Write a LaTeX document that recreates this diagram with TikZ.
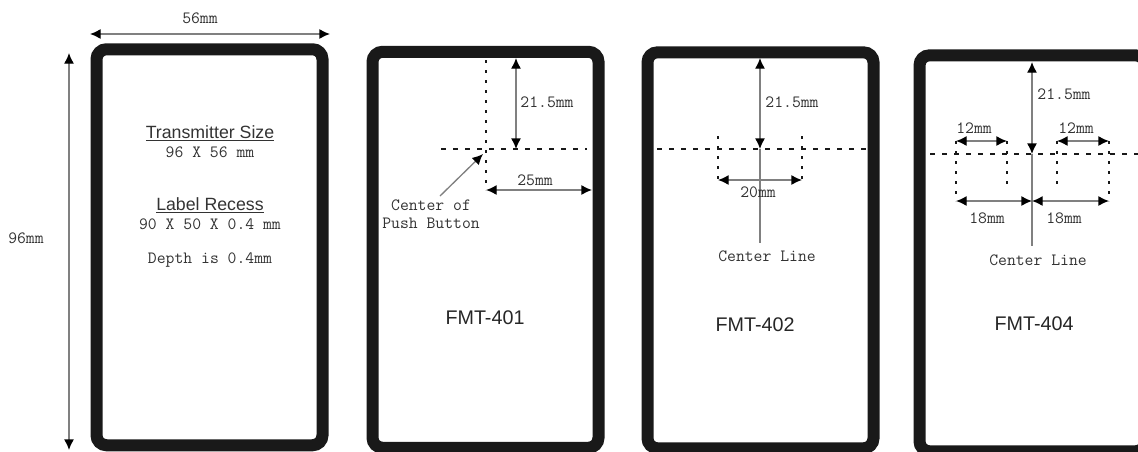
\documentclass[tikz,border=0pt]{standalone}
\usepackage{fontspec}
\setmainfont{Liberation Sans}
\usetikzlibrary{arrows.meta, positioning}
\tikzset{
  card/.style={rectangle, draw=black!90, line width=9pt, rounded corners=7.5pt,
               minimum width=169.5pt, minimum height=297pt},
  dimarrow/.style={{Latex[black,length=8pt,width=7.5pt]}-{Latex[black,length=8pt,width=7.5pt]}, draw=black!50, line width=1pt},
  tiparrow/.style={-{Latex[black,length=8pt,width=7.5pt]}, draw=black!50, line width=1pt},
  hdash/.style={draw=black!90, line width=1.6pt, dash pattern=on 4pt off 5pt},
  vdash/.style={draw=black!90, line width=1.8pt, dash pattern=on 2.5pt off 5pt},
  mono/.style={inner sep=0pt, text=black!80, font=\ttfamily\fontsize{12.9}{15}\selectfont},
  title/.style={inner sep=0pt, text=black!80, font=\fontsize{13.3}{16}\selectfont},
  model/.style={inner sep=0pt, text=black!85, font=\fontsize{14.8}{17}\selectfont}
}

\begin{document}
\begin{tikzpicture}[x=0.75pt, y=-0.75pt]
\useasboundingbox (0,0) rectangle (1138,451);
\clip (0,0) rectangle (1138,451);

% Row of cards
\node[card] (Size) at (209.5,247.25) {};
\node[card, right=28.5pt of Size, yshift=-1.9pt] (FMT401) {};
\node[card, right=27.75pt of FMT401, yshift=-0.4pt] (FMT402) {};
\node[card, right=25.5pt of FMT402, yshift=-2.25pt] (FMT404) {};

% Outer dimensions
\coordinate (WidthL) at (90,34);
\coordinate (WidthR) at (330,34);
\coordinate (HeightT) at (69,53);
\coordinate (HeightB) at (69,450);
\draw[dimarrow] (WidthL) -- (WidthR);
\draw[dimarrow] (HeightT) -- (HeightB);
\node[mono] (WidthText) at (200,18) {56mm};
\node[mono] (HeightText) at (26,238) {96mm};

% Size card text
\node[title] (SizeTitle) at (210,133) {\underline{Transmitter Size}};
\node[mono] (SizeText) at (210,152) {96 X 56 mm};
\node[title] (RecessTitle) at (210,205) {\underline{Label Recess}};
\node[mono] (RecessText) at (210,224) {90 X 50 X 0.4 mm};
\node[mono] (DepthText) at (210,260) {Depth is 0.4mm};

% FMT-401
\coordinate (HL401) at (441,149);
\coordinate (HR401) at (587,149);
\coordinate (VT401) at (486,60);
\coordinate (VB401) at (486,190);
\coordinate (DT401) at (516,58);
\coordinate (DB401) at (516,149);
\coordinate (WL401) at (486,190);
\coordinate (WR401) at (592,190);
\coordinate (Lead401) at (440,196);
\coordinate (Push401) at (483,154);
\draw[hdash] (HL401) -- (HR401);
\draw[vdash] (VT401) -- (VB401);
\draw[dimarrow] (DT401) -- (DB401);
\draw[dimarrow] (WL401) -- (WR401);
\draw[tiparrow] (Lead401) -- (Push401);
\node[mono] (Text215a) at (547,102) {21.5mm};
\node[mono] (Text25) at (535,180) {25mm};
\node[mono] (Center401) at (431,205) {Center of};
\node[mono] (Button401) at (431,223) {Push Button};
\node[model] (Model401) at (485,318) {FMT-401};

% FMT-402
\coordinate (HL402) at (657,149);
\coordinate (HR402) at (868,149);
\coordinate (CT402) at (760,58);
\coordinate (CM402) at (760,149);
\coordinate (CB402) at (760,243);
\coordinate (AT402) at (718,136);
\coordinate (AB402) at (718,180);
\coordinate (BT402) at (802,136);
\coordinate (BB402) at (802,180);
\draw[hdash] (HL402) -- (HR402);
\draw[vdash] (AT402) -- (AB402);
\draw[vdash] (BT402) -- (BB402);
\draw[dimarrow] (CT402) -- (CM402);
\draw[draw=black!50, line width=0.8pt] (CM402) -- (CB402);
\draw[dimarrow] (AB402) -- (BB402);
\node[mono] (Text215b) at (792,102) {21.5mm};
\node[mono] (Text20) at (758,192) {20mm};
\node[mono] (Line402) at (767,256) {Center Line};
\node[model] (Model402) at (755,325) {FMT-402};

% FMT-404
\coordinate (HL404) at (930,154);
\coordinate (HR404) at (1138,154);
\coordinate (CT404) at (1032,62);
\coordinate (CM404) at (1032,154);
\coordinate (CN404) at (1032,201);
\coordinate (CB404) at (1032,246);
\coordinate (AT404) at (956,141);
\coordinate (AB404) at (956,201);
\coordinate (BT404) at (1007,141);
\coordinate (BB404) at (1007,187);
\coordinate (ET404) at (1057,141);
\coordinate (EB404) at (1057,187);
\coordinate (FT404) at (1109,141);
\coordinate (FB404) at (1109,201);
\draw[hdash] (HL404) -- (HR404);
\draw[vdash] (AT404) -- (AB404);
\draw[vdash] (BT404) -- (BB404);
\draw[vdash] (ET404) -- (EB404);
\draw[vdash] (FT404) -- (FB404);
\draw[dimarrow] (CT404) -- (CM404);
\draw[draw=black!50, line width=1.2pt] (CM404) -- (CB404);
\draw[dimarrow] (AT404) -- (BT404);
\draw[dimarrow] (ET404) -- (FT404);
\draw[dimarrow] (AB404) -- (CN404);
\draw[dimarrow] (FB404) -- (CN404);
\node[mono] (Text215c) at (1064,94) {21.5mm};
\node[mono] (Text12a) at (974,128) {12mm};
\node[mono] (Text12b) at (1076,128) {12mm};
\node[mono] (Text18a) at (987,218) {18mm};
\node[mono] (Text18b) at (1064,218) {18mm};
\node[mono] (Line404) at (1038,260) {Center Line};
\node[model] (Model404) at (1034,324) {FMT-404};

\end{tikzpicture}
\end{document}
